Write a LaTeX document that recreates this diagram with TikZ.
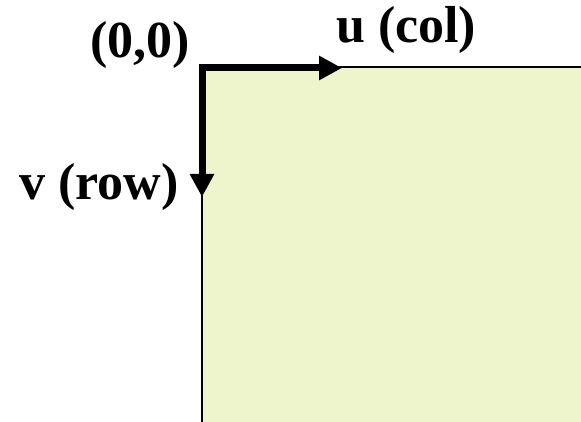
\documentclass[tikz,border=0pt]{standalone}
\usepackage{fontspec}
\setmainfont{Liberation Serif}
\usetikzlibrary{arrows.meta}
\definecolor{imgfill}{RGB}{238,244,204}
\tikzset{
  axislabel/.style={anchor=base west, inner sep=0pt, font=\fontsize{52}{60}\selectfont\bfseries},
  axisline/.style={line width=7pt, line join=miter, {Triangle[length=23pt,width=23pt]}-{Triangle[length=23pt,width=23pt]}},
  border/.style={line width=2pt}
}
\begin{document}
\begin{tikzpicture}[x=1pt,y=-1pt]
  \useasboundingbox (0,0) rectangle (581,422);
  % image area
  \coordinate (tl) at (202,67);
  \coordinate (tr) at (581,67);
  \coordinate (bl) at (202,422);
  \coordinate (br) at (581,422);
  \fill[imgfill] (tl) rectangle (br);
  \draw[border] (bl) -- (tl) -- (tr);
  % axes
  \coordinate (origin) at (202,68);
  \coordinate (uend) at (342,68);
  \coordinate (vend) at (202,197);
  \draw[axisline] (vend) -- (origin) -- (uend);
  % labels
  \node[axislabel] (olabel) at (90,58) {(0,0)};
  \node[axislabel] (ulabel) at (336,43) {u (col)};
  \node[axislabel] (vlabel) at (19,200) {v (row)};
\end{tikzpicture}
\end{document}
